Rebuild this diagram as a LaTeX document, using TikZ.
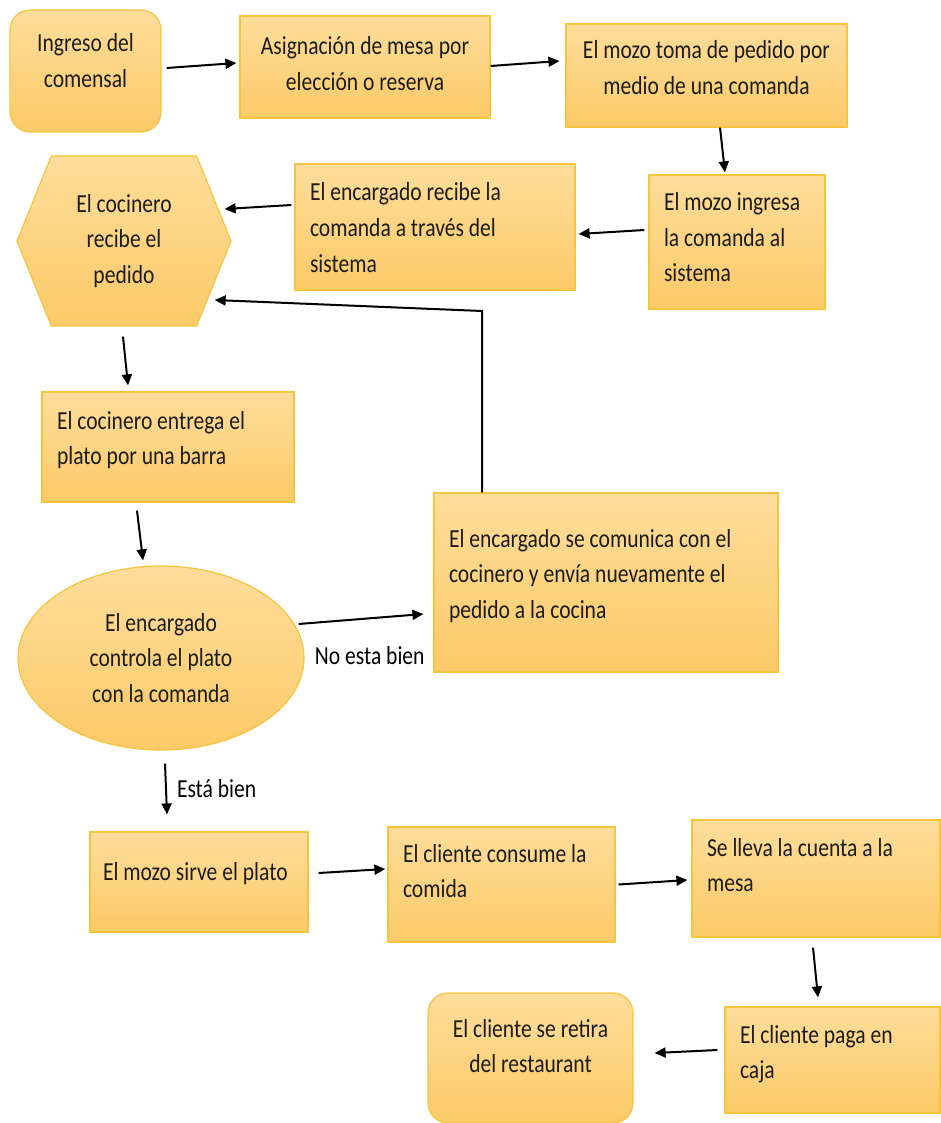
\documentclass[tikz,border=0pt]{standalone}
\usepackage{fontspec}
\setmainfont{Carlito}[FakeStretch=0.83]
\usepackage{xcolor}
\usepackage{tikz}
\usetikzlibrary{shapes.geometric, shapes.symbols, arrows.meta, positioning, calc}

\definecolor{cajaTop}{RGB}{254,221,155}
\definecolor{cajaBot}{RGB}{251,202,104}
\definecolor{cajaBorde}{RGB}{247,196,62}
\definecolor{tinta}{RGB}{28,28,28}

\begin{document}
\begin{tikzpicture}[x=1pt, y=-1pt,
    font=\fontsize{26}{35.5}\selectfont, text=tinta,
    fondo/.style={draw=cajaBorde, line width=1.2pt, top color=cajaTop, bottom color=cajaBot},
    proc/.style={fondo, rectangle, inner xsep=15pt, inner ysep=0pt, align=flush left},
    proccentro/.style={fondo, rectangle, inner xsep=4pt, inner ysep=0pt, align=flush center},
    redondo/.style={proccentro, rounded corners=20pt},
    flecha/.style={-{Triangle[length=11pt, width=10pt]}, line width=2pt, black},
    etiqueta/.style={inner sep=0pt}
  ]
    \useasboundingbox (0,0) rectangle (940,1123);

    % Fila superior
    \node[redondo, text width=143pt, text height=42pt, text depth=80pt] (ingreso) at (85.5,71) {Ingreso del\\comensal};
    \node[proccentro, text width=242pt, text height=39pt, text depth=63pt] (mesa) at (365,67) {Asignación de mesa por\\elección o reserva};
    \node[proccentro, text width=273pt, text height=35pt, text depth=68pt] (comanda) at (706.5,75.5) {El mozo toma de pedido por\\medio de una comanda};

    % Segunda fila
    \node[proc, text width=146pt, text height=36pt, text depth=98pt] (sistema) at (737,242) {El mozo ingresa\\la comanda al\\sistema};
    \node[proc, text width=250pt, text height=37pt, text depth=89pt] (recibe) at (435,227) {El encargado recibe la\\comanda a través del\\sistema};
    \node[fondo, signal, signal to=east and west, signal pointer angle=136, minimum width=214pt, minimum height=170pt, inner sep=0pt, align=flush center] (cocinero) at (124,241) {El cocinero\\recibe el\\pedido};

    % Cocina y control
    \node[proc, text width=222pt, text height=37pt, text depth=73pt] (barra) at (168,447) {El cocinero entrega el\\plato por una barra};
    \node[fondo, ellipse, minimum width=286pt, minimum height=184pt, inner sep=0pt, align=flush center] (control) at (161,658) {El encargado\\controla el plato\\con la comanda};
    \node[proc, text width=314pt, text height=54pt, text depth=125pt] (reenvio) at (606,582.5) {El encargado se comunica con el\\cocinero y envía nuevamente el\\pedido a la cocina};

    % Servicio y cuenta
    \node[proc, inner xsep=13pt, text width=192pt, text height=48pt, text depth=52pt] (sirve) at (199,882) {El mozo sirve el plato};
    \node[proc, text width=197pt, text height=35pt, text depth=80pt] (consume) at (501.5,884.5) {El cliente consume la\\comida};
    \node[proc, text width=218pt, text height=36pt, text depth=81pt] (cuenta) at (816,878.5) {Se lleva la cuenta a la\\mesa};
    \node[proc, text width=185pt, text height=36pt, text depth=70pt] (paga) at (832.5,1060) {El cliente paga en\\caja};
    \node[redondo, text width=197pt, text height=44pt, text depth=86pt] (retira) at (530.5,1058) {El cliente se retira\\del restaurant};

    % Flechas
    \draw[flecha] ([shift={(5,-3)}]ingreso.east) -- ([shift={(-3,-4)}]mesa.west);
    \draw[flecha] ([shift={(0,-1)}]mesa.east) -- ([shift={(-6,-14.5)}]comanda.west);
    \draw[flecha] ([shift={(13.5,0)}]comanda.south) -- ([shift={(-12,-2)}]sistema.north);
    \draw[flecha] ([shift={(-4,-12)}]sistema.west) -- ([shift={(3,7)}]recibe.east);
    \draw[flecha] ([shift={(-3,-22)}]recibe.west) -- ([shift={(-7,-32)}]cocinero.east);

    % Retorno a la cocina
    \coordinate (vuelta) at (482,311);
    \draw[flecha] ([xshift=-124pt]reenvio.north) -- (vuelta) -- ([shift={(-17,59)}]cocinero.east);

    \draw[flecha] ([shift={(-1,10)}]cocinero.south) -- ([shift={(-40,-6)}]barra.north);
    \draw[flecha] ([shift={(-31,8)}]barra.south) -- ([shift={(-18,-5)}]control.north);
    \draw[flecha] ([shift={(-6,-34)}]control.east) -- ([shift={(-10,31.5)}]reenvio.west)
      node[etiqueta, pos=0.57, yshift=-37pt] (noesta) {No esta bien};
    \draw[flecha] ([shift={(4,13)}]control.south) -- ([shift={(-32,-17)}]sirve.north)
      node[etiqueta, pos=0.5, anchor=west, xshift=10pt] (estabien) {Está bien};

    \draw[flecha] ([shift={(10,-9)}]sirve.east) -- ([shift={(-2,-15.5)}]consume.west);
    \draw[flecha] ([shift={(3,0)}]consume.east) -- ([shift={(-4,1.5)}]cuenta.west);
    \draw[flecha] ([shift={(-3,10)}]cuenta.south) -- ([shift={(-14.5,-9)}]paga.north);
    \draw[flecha] ([shift={(-7,-10)}]paga.west) -- ([shift={(21,-5)}]retira.east);
  \end{tikzpicture}
\end{document}
